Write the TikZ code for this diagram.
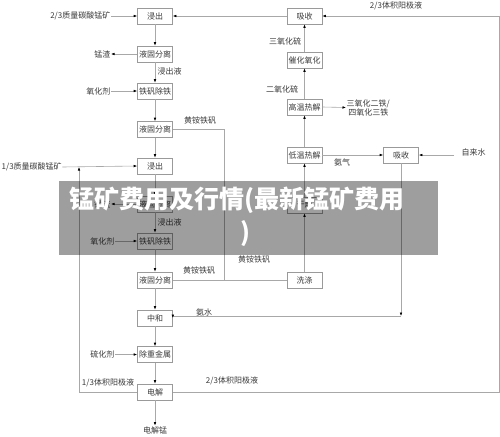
\documentclass[tikz,border=0pt]{standalone}
\usepackage{fontspec}
\newfontfamily\cjk{Noto Sans CJK SC}
\usetikzlibrary{arrows.meta}
\definecolor{ln}{HTML}{A8A8A8}
\definecolor{bx}{HTML}{9A9A9A}
\definecolor{tx}{HTML}{3A3A3A}
\begin{document}
\begin{tikzpicture}[x=1pt,y=-1pt,
 box/.style={draw=bx, line width=0.6pt, minimum width=35pt, minimum height=16pt, inner sep=0pt, font=\cjk\fontsize{8}{9}\selectfont, text=tx},
 lbl/.style={font=\cjk\fontsize{8}{9}\selectfont, text=tx, inner sep=0.5pt},
 ar/.style={draw=ln, line width=0.6pt, -{Latex[length=3.5pt,width=2.6pt,color=black]}},
 pl/.style={draw=ln, line width=0.6pt},
 bantext/.style={font=\cjk\bfseries\fontsize{25}{30}\selectfont, text=white, inner sep=0pt}]
\fill[white] (0,0) rectangle (500,436);
\useasboundingbox (0,0) rectangle (500,436);
% left column
\node[box] (jc1) at (155,16) {浸出};
\node[box] (gy1) at (155,54) {液固分离};
\node[box] (cf1) at (155,91) {铁矾除铁};
\node[box] (gy2) at (155,129.5) {液固分离};
\node[box] (jc2) at (155,166) {浸出};
\node[box] (gy3) at (155,204) {液固分离};
\node[box] (cf2) at (155,241) {铁矾除铁};
\node[box] (gy4) at (155,280) {液固分离};
\node[box] (zh) at (155,318) {中和};
\node[box] (cz) at (155,354.5) {除重金属};
\node[box] (dj) at (155,392) {电解};
\node[lbl] (djm) at (155,430) {电解锰};
% right column
\node[box] (xs1) at (304.5,16) {吸收};
\node[box] (ch) at (304.5,60) {催化氧化};
\node[box] (gw) at (304.5,107) {高温热解};
\node[box] (dw) at (304.5,155) {低温热解};
\node[box] (gz) at (304.5,205) {干燥};
\node[box] (xd) at (304.5,280) {洗涤};
\node[box] (xs2) at (401,155) {吸收};
% labels
\node[lbl, anchor=east] (l23) at (111,16) {2/3质量碳酸锰矿};
\node[lbl, anchor=east] (mz1) at (111,54) {锰渣};
\node[lbl, anchor=west] at (157,71) {浸出液};
\node[lbl, anchor=east] (yh1) at (111,91) {氧化剂};
\node[lbl] at (200,120) {黄铵铁矾};
\node[lbl, anchor=west] (l13) at (1,167) {1/3质量碳酸锰矿};
\node[lbl, anchor=east] (mz2) at (111,204) {锰渣};
\node[lbl, anchor=west] at (157,222) {浸出液};
\node[lbl, anchor=east] (yh2) at (115,241) {氧化剂};
\node[lbl] at (199,270) {黄铵铁矾};
\node[lbl] at (254,259) {黄铵铁矾};
\node[lbl] at (204,312) {氨水};
\node[lbl, anchor=east] (lh) at (115,354.5) {硫化剂};
\node[lbl] at (108,383) {1/3体积阳极液};
\node[lbl] at (232,381) {2/3体积阳极液};
\node[lbl] at (396,6) {2/3体积阳极液};
\node[lbl] at (285,41) {三氧化硫};
\node[lbl] at (282,89) {二氧化硫};
\node[lbl, align=center, anchor=west] (fe) at (346,107.5) {三氧化二铁/\\四氧化三铁};
\node[lbl] at (342,162) {氨气};
\node[lbl, anchor=west] (zls) at (461,152) {自来水};
% coordinates
\coordinate (zs) at (454,155);
\coordinate (r1) at (499,392);
\coordinate (r2) at (499,16);
\coordinate (lf1) at (79,392);
\coordinate (lf2) at (79,167);
\coordinate (v1) at (224,129.5);
\coordinate (v2) at (224,280);
\coordinate (nk) at (401,316);
% main vertical flow
\draw[ar] (jc1) -- (gy1);
\draw[ar] (gy1) -- (cf1);
\draw[ar] (cf1) -- (gy2);
\draw[ar] (gy2) -- (jc2);
\draw[ar] (jc2) -- (gy3);
\draw[ar] (gy3) -- (cf2);
\draw[ar] (cf2) -- (gy4);
\draw[ar] (gy4) -- (zh);
\draw[ar] (zh) -- (cz);
\draw[ar] (cz) -- (dj);
\draw[ar] (dj) -- (djm);
% side inputs
\draw[ar] (l23.east) -- (jc1.west);
\draw[ar] (gy1.west) -- (mz1.east);
\draw[ar] (yh1.east) -- (cf1.west);
\draw[ar] (l13.east) -- (jc2.west);
\draw[ar] (gy3.west) -- (mz2.east);
\draw[ar] (yh2.east) -- (cf2.west);
\draw[ar] (lh.east) -- (cz.west);
% right column
\draw[ar] (xd) -- (gz);
\draw[ar] (gz) -- (dw);
\draw[ar] (dw) -- (gw);
\draw[ar] (gw) -- (ch);
\draw[ar] (ch) -- (xs1);
\draw[ar] (gw.east) -- (fe.west);
\draw[ar] (dw.east) -- (xs2.west);
\draw[ar] (zs) -- (xs2.east);
\draw[ar] (xs1.west) -- (jc1.east);
% jarosite lines
\draw[pl] (gy2.east) -- (v1) -- (v2);
\draw[pl] (gy4.east) -- (xd.west);
% ammonia water
\draw[ar] (xs2.south) -- (nk);
\draw[ar] (nk) -- (nk -| zh.east) -- (zh.east);
% anolyte loops
\draw[ar] (dj.east) -- (r1) -- (r2) -- (xs1.east);
\draw[ar] (dj.west) -- (lf1) -- (lf2);
% banner
\fill[black, opacity=0.38] (59,181) rectangle (438,255);
\node[bantext] (ban1) at (237,200) {锰矿费用及行情(最新锰矿费用};
\node[bantext] (ban2) at (245,234) {)};
\end{tikzpicture}
\end{document}
